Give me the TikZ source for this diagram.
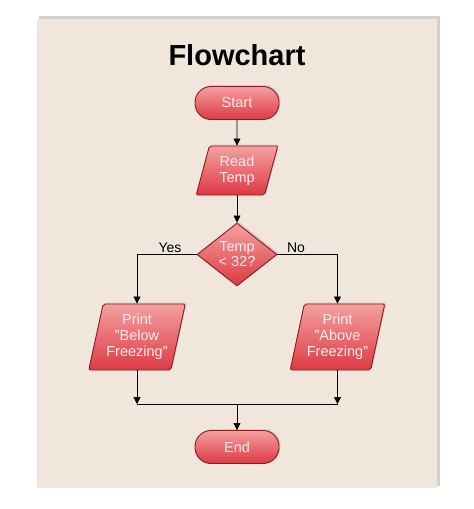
\documentclass[tikz,border=0pt]{standalone}
\usepackage{fontspec}
\setmainfont{Liberation Sans}
\usetikzlibrary{shapes.geometric,arrows.meta,shadows}
\definecolor{panel}{HTML}{F1E6DC}
\definecolor{panelshadow}{HTML}{D2D0CE}
\definecolor{boxtop}{HTML}{F4A0A0}
\definecolor{boxbot}{HTML}{DD3A44}
\definecolor{boxline}{HTML}{8A1C1E}
\definecolor{boxtext}{HTML}{FDEDED}
\tikzset{
  boxbase/.style={draw=boxline, line width=0.9pt, top color=boxtop, bottom color=boxbot,
    text=boxtext, font=\fontsize{14.5}{16}\selectfont, align=center, inner sep=0pt,
    drop shadow={shadow xshift=1.5pt, shadow yshift=1.5pt, opacity=0.25, fill=gray}},
  terminal/.style={boxbase, rectangle, rounded corners=16pt, minimum width=84pt, minimum height=33pt},
  iobox/.style={boxbase, trapezium, trapezium left angle=74, trapezium right angle=106,
    trapezium stretches=true, rounded corners=2pt},
  decision/.style={boxbase, diamond, minimum width=80pt, minimum height=63pt},
  flowarrow/.style={draw=black, line width=0.7pt, -{Triangle[length=7pt,width=7pt]}},
  flowline/.style={draw=black, line width=0.7pt},
  branchlabel/.style={font=\fontsize{14}{16}\selectfont, text=black, inner sep=0pt}
}
\begin{document}
\begin{tikzpicture}[x=1pt,y=-1pt]
\useasboundingbox (0,0) rectangle (474,509);
% panel
\fill[panelshadow] (39,16) rectangle (440,486);
\fill[panel] (37,19) rectangle (437,488);
% title
\node[font=\fontsize{29}{34}\selectfont\bfseries, anchor=base, inner sep=0pt] (title) at (237,65) {Flowchart};
% nodes
\node[terminal] (start) at (237,103) {Start};
\node[iobox, minimum width=82pt, minimum height=49pt] (read) at (237,170.5) {Read\\Temp};
\node[decision] (dec) at (237,254.5) {Temp\\[-1pt]< 32?};
\node[iobox, minimum width=97pt, minimum height=66pt] (below) at (137,337) {Print\\"Below\\Freezing"};
\node[iobox, minimum width=95pt, minimum height=66pt] (above) at (337.5,337) {Print\\"Above\\Freezing"};
\node[terminal] (end) at (237,447) {End};
% junction points
\coordinate (jl) at (137,404);
\coordinate (jr) at (337.5,404);
\coordinate (jm) at (237,404);
% connectors
\draw[flowarrow] (start) -- (read);
\draw[flowarrow] (read.center |- read.south) -- (dec.north);
\draw[flowarrow] (dec.west) -| (below.center |- below.north);
\draw[flowarrow] (dec.east) -| (above.center |- above.north);
\draw[flowarrow] (below.center |- below.south) -- (jl);
\draw[flowarrow] (above.center |- above.south) -- (jr);
\draw[flowline] (jl) -- (jr);
\draw[flowarrow] (jm) -- (end);
% labels
\node[branchlabel, anchor=base] (yes) at (170,252) {Yes};
\node[branchlabel, anchor=base] (no) at (296,252) {No};
\end{tikzpicture}
\end{document}
